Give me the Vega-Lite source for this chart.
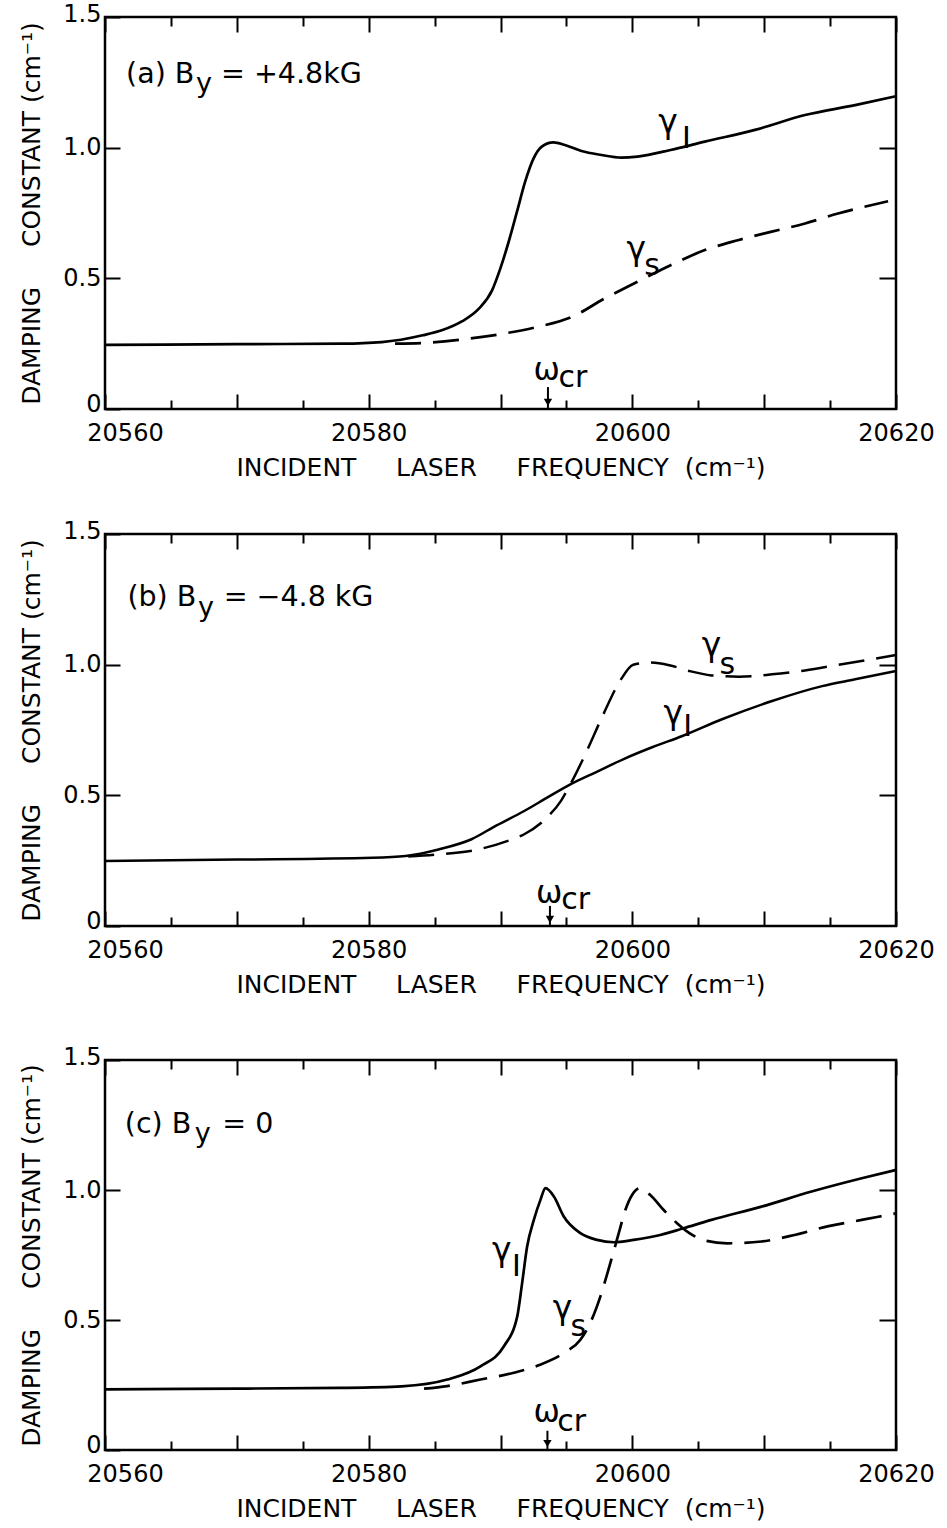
{
  "$schema": "https://vega.github.io/schema/vega-lite/v6.json",
  "padding": {"top": 0, "left": 18, "right": 0, "bottom": 0},
  "background": "white",
  "spacing": 35,
  "datasets": {
    "curves": [
      {"panel":"a","series":"I","f":20560,"v":0.245},{"panel":"a","series":"I","f":20570,"v":0.248},{"panel":"a","series":"I","f":20578,"v":0.25},{"panel":"a","series":"I","f":20581,"v":0.256},{"panel":"a","series":"I","f":20584.1,"v":0.282},{"panel":"a","series":"I","f":20585.6,"v":0.302},{"panel":"a","series":"I","f":20587.1,"v":0.336},{"panel":"a","series":"I","f":20588.36,"v":0.384},{"panel":"a","series":"I","f":20589.36,"v":0.454},{"panel":"a","series":"I","f":20589.99,"v":0.538},{"panel":"a","series":"I","f":20590.62,"v":0.64},{"panel":"a","series":"I","f":20591.25,"v":0.755},{"panel":"a","series":"I","f":20591.87,"v":0.87},{"panel":"a","series":"I","f":20592.51,"v":0.959},{"panel":"a","series":"I","f":20593.13,"v":1.004},{"panel":"a","series":"I","f":20594.01,"v":1.02},{"panel":"a","series":"I","f":20594.89,"v":1.01},{"panel":"a","series":"I","f":20596.14,"v":0.987},{"panel":"a","series":"I","f":20597.65,"v":0.972},{"panel":"a","series":"I","f":20599.16,"v":0.962},{"panel":"a","series":"I","f":20600.4,"v":0.966},{"panel":"a","series":"I","f":20602.9,"v":0.991},{"panel":"a","series":"I","f":20605.5,"v":1.023},{"panel":"a","series":"I","f":20609.3,"v":1.068},{"panel":"a","series":"I","f":20613.1,"v":1.125},{"panel":"a","series":"I","f":20616.9,"v":1.163},{"panel":"a","series":"I","f":20620,"v":1.197},
      {"panel":"a","series":"S","f":20582,"v":0.25},{"panel":"a","series":"S","f":20584.7,"v":0.254},{"panel":"a","series":"S","f":20587.6,"v":0.269},{"panel":"a","series":"S","f":20590.3,"v":0.289},{"panel":"a","series":"S","f":20592.8,"v":0.314},{"panel":"a","series":"S","f":20595.4,"v":0.352},{"panel":"a","series":"S","f":20597.9,"v":0.423},{"panel":"a","series":"S","f":20600.4,"v":0.487},{"panel":"a","series":"S","f":20602.9,"v":0.55},{"panel":"a","series":"S","f":20605.5,"v":0.608},{"panel":"a","series":"S","f":20608,"v":0.646},{"panel":"a","series":"S","f":20610.5,"v":0.678},{"panel":"a","series":"S","f":20613.1,"v":0.71},{"panel":"a","series":"S","f":20615.6,"v":0.748},{"panel":"a","series":"S","f":20619.4,"v":0.795},
      {"panel":"b","series":"I","f":20560,"v":0.249},{"panel":"b","series":"I","f":20570,"v":0.254},{"panel":"b","series":"I","f":20580.3,"v":0.261},{"panel":"b","series":"I","f":20582.8,"v":0.268},{"panel":"b","series":"I","f":20585.3,"v":0.293},{"panel":"b","series":"I","f":20587.8,"v":0.332},{"panel":"b","series":"I","f":20589.7,"v":0.385},{"panel":"b","series":"I","f":20591.8,"v":0.44},{"panel":"b","series":"I","f":20593.5,"v":0.49},{"panel":"b","series":"I","f":20595.3,"v":0.542},{"panel":"b","series":"I","f":20597.3,"v":0.59},{"panel":"b","series":"I","f":20599.3,"v":0.638},{"panel":"b","series":"I","f":20601.5,"v":0.684},{"panel":"b","series":"I","f":20603.8,"v":0.727},{"panel":"b","series":"I","f":20606.8,"v":0.791},{"panel":"b","series":"I","f":20610.6,"v":0.861},{"panel":"b","series":"I","f":20614.4,"v":0.918},{"panel":"b","series":"I","f":20616.9,"v":0.944},{"panel":"b","series":"I","f":20620,"v":0.976},
      {"panel":"b","series":"S","f":20583,"v":0.266},{"panel":"b","series":"S","f":20585.3,"v":0.274},{"panel":"b","series":"S","f":20588.3,"v":0.293},{"panel":"b","series":"S","f":20590.5,"v":0.325},{"panel":"b","series":"S","f":20591.8,"v":0.351},{"panel":"b","series":"S","f":20593.5,"v":0.414},{"panel":"b","series":"S","f":20594.6,"v":0.48},{"panel":"b","series":"S","f":20595.3,"v":0.542},{"panel":"b","series":"S","f":20596.55,"v":0.67},{"panel":"b","series":"S","f":20597.8,"v":0.81},{"panel":"b","series":"S","f":20599.07,"v":0.938},{"panel":"b","series":"S","f":20600.07,"v":1.0},{"panel":"b","series":"S","f":20601.3,"v":1.008},{"panel":"b","series":"S","f":20602.8,"v":0.998},{"panel":"b","series":"S","f":20604.3,"v":0.976},{"panel":"b","series":"S","f":20606,"v":0.959},{"panel":"b","series":"S","f":20608.1,"v":0.954},{"panel":"b","series":"S","f":20610.6,"v":0.963},{"panel":"b","series":"S","f":20613.1,"v":0.978},{"panel":"b","series":"S","f":20615.6,"v":0.999},{"panel":"b","series":"S","f":20620,"v":1.037},
      {"panel":"c","series":"I","f":20560,"v":0.233},{"panel":"c","series":"I","f":20570,"v":0.236},{"panel":"c","series":"I","f":20577.9,"v":0.239},{"panel":"c","series":"I","f":20582.5,"v":0.245},{"panel":"c","series":"I","f":20585.96,"v":0.271},{"panel":"c","series":"I","f":20588.48,"v":0.322},{"panel":"c","series":"I","f":20590.26,"v":0.399},{"panel":"c","series":"I","f":20591.27,"v":0.514},{"panel":"c","series":"I","f":20591.64,"v":0.642},{"panel":"c","series":"I","f":20592.02,"v":0.783},{"panel":"c","series":"I","f":20592.53,"v":0.885},{"panel":"c","series":"I","f":20593.03,"v":0.962},{"panel":"c","series":"I","f":20593.41,"v":1.007},{"panel":"c","series":"I","f":20594.05,"v":0.975},{"panel":"c","series":"I","f":20594.8,"v":0.898},{"panel":"c","series":"I","f":20596.06,"v":0.834},{"panel":"c","series":"I","f":20597.33,"v":0.808},{"panel":"c","series":"I","f":20598.59,"v":0.799},{"panel":"c","series":"I","f":20600.1,"v":0.808},{"panel":"c","series":"I","f":20602.12,"v":0.827},{"panel":"c","series":"I","f":20603.89,"v":0.853},{"panel":"c","series":"I","f":20606,"v":0.885},{"panel":"c","series":"I","f":20609.8,"v":0.936},{"panel":"c","series":"I","f":20613.6,"v":0.994},{"panel":"c","series":"I","f":20617.4,"v":1.045},{"panel":"c","series":"I","f":20620,"v":1.077},
      {"panel":"c","series":"S","f":20584.2,"v":0.236},{"panel":"c","series":"S","f":20585.96,"v":0.246},{"panel":"c","series":"S","f":20588.48,"v":0.271},{"panel":"c","series":"S","f":20591.0,"v":0.297},{"panel":"c","series":"S","f":20593.0,"v":0.328},{"panel":"c","series":"S","f":20594.8,"v":0.373},{"panel":"c","series":"S","f":20596.06,"v":0.424},{"panel":"c","series":"S","f":20596.8,"v":0.488},{"panel":"c","series":"S","f":20597.58,"v":0.591},{"panel":"c","series":"S","f":20598.33,"v":0.719},{"panel":"c","series":"S","f":20598.97,"v":0.834},{"panel":"c","series":"S","f":20599.47,"v":0.923},{"panel":"c","series":"S","f":20599.98,"v":0.981},{"panel":"c","series":"S","f":20600.6,"v":1.007},{"panel":"c","series":"S","f":20601.36,"v":0.981},{"panel":"c","series":"S","f":20602.38,"v":0.923},{"panel":"c","series":"S","f":20603.39,"v":0.872},{"panel":"c","series":"S","f":20604.3,"v":0.835},{"panel":"c","series":"S","f":20605.5,"v":0.806},{"panel":"c","series":"S","f":20607.2,"v":0.795},{"panel":"c","series":"S","f":20609.8,"v":0.802},{"panel":"c","series":"S","f":20612.3,"v":0.827},{"panel":"c","series":"S","f":20614.8,"v":0.86},{"panel":"c","series":"S","f":20617.4,"v":0.885},{"panel":"c","series":"S","f":20620,"v":0.91}
    ],
    "labels": [
      {"panel":"a","kind":"gamma","f":20602.7,"v":1.095,"text":"γ"},
      {"panel":"a","kind":"sub","f":20604.1,"v":1.035,"text":"I"},
      {"panel":"a","kind":"gamma","f":20600.3,"v":0.608,"text":"γ"},
      {"panel":"a","kind":"sub","f":20601.5,"v":0.548,"text":"s"},
      {"panel":"a","kind":"omega","f":20593.5,"v":0.146,"text":"ω"},
      {"panel":"a","kind":"sub","f":20595.5,"v":0.117,"text":"cr"},
      {"panel":"b","kind":"gamma","f":20606.0,"v":1.07,"text":"γ"},
      {"panel":"b","kind":"sub","f":20607.2,"v":1.0,"text":"s"},
      {"panel":"b","kind":"gamma","f":20603.1,"v":0.81,"text":"γ"},
      {"panel":"b","kind":"sub","f":20604.2,"v":0.762,"text":"I"},
      {"panel":"b","kind":"omega","f":20593.7,"v":0.122,"text":"ω"},
      {"panel":"b","kind":"sub","f":20595.7,"v":0.098,"text":"cr"},
      {"panel":"c","kind":"gamma","f":20590.1,"v":0.765,"text":"γ"},
      {"panel":"c","kind":"sub","f":20591.2,"v":0.705,"text":"I"},
      {"panel":"c","kind":"gamma","f":20594.7,"v":0.542,"text":"γ"},
      {"panel":"c","kind":"sub","f":20595.9,"v":0.472,"text":"s"},
      {"panel":"c","kind":"omega","f":20593.5,"v":0.142,"text":"ω"},
      {"panel":"c","kind":"sub","f":20595.4,"v":0.106,"text":"cr"}
    ],
    "heads": [
      {"panel":"a","kind":"head","f":20561.6,"v":1.249,"text":"(a) B"},
      {"panel":"a","kind":"headsub","f":20566.9,"v":1.212,"text":"y"},
      {"panel":"a","kind":"head","f":20568.8,"v":1.249,"text":"= +4.8kG"},
      {"panel":"b","kind":"head","f":20561.7,"v":1.225,"text":"(b) B"},
      {"panel":"b","kind":"headsub","f":20567.05,"v":1.188,"text":"y"},
      {"panel":"b","kind":"head","f":20569.0,"v":1.225,"text":"= −4.8 kG"},
      {"panel":"c","kind":"head","f":20561.5,"v":1.221,"text":"(c) B"},
      {"panel":"c","kind":"headsub","f":20566.8,"v":1.184,"text":"y"},
      {"panel":"c","kind":"head","f":20568.9,"v":1.221,"text":"= 0"}
    ],
    "arrows": [
      {"panel":"a","f":20593.6,"top":0.084,"bot":0.004,"tip":0.025},
      {"panel":"b","f":20593.75,"top":0.077,"bot":0.004,"tip":0.025},
      {"panel":"c","f":20593.56,"top":0.074,"bot":0.004,"tip":0.025}
    ]
  },
  "vconcat": [
    {
      "width": 791, "height": 392,
      "resolve": {"axis": {"x": "independent", "y": "independent"}},
      "layer": [
        {"data": {"name": "curves"}, "transform": [{"filter": "datum.panel === 'a' && datum.series === 'I'"}],
         "mark": {"type": "line", "color": "black", "strokeWidth": 2.7, "interpolate": "monotone"},
         "encoding": {
           "x": {"field": "f", "type": "quantitative", "scale": {"domain": [20560, 20620], "nice": false, "zero": false},
             "axis": {"orient": "bottom", "values": [20560,20565,20570,20575,20580,20585,20590,20595,20600,20605,20610,20615,20620],
               "tickSize": {"condition": {"test": "datum.value % 10 === 0", "value": -15}, "value": -9},
               "labelOffset": {"condition": {"test": "datum.value === 20560", "value": 20}, "value": 0},
               "labelExpr": "datum.value % 20 === 0 ? format(datum.value, 'd') : ''", "labelOverlap": false, "labelFlush": false, "labelPadding": 27,
               "title": "INCIDENT\u00a0\u00a0\u00a0\u00a0\u00a0LASER\u00a0\u00a0\u00a0\u00a0\u00a0FREQUENCY\u00a0\u00a0(cm⁻¹)", "titlePadding": 4}},
           "y": {"field": "v", "type": "quantitative", "scale": {"domain": [0, 1.5], "nice": false, "zero": false},
             "axis": {"orient": "left", "values": [0, 0.5, 1, 1.5], "tickSize": -15, "labelPadding": 19, "labelFlush": false, "labelOverlap": false,
               "labelOffset": {"condition": [{"test": "datum.value === 0", "value": -5}, {"test": "datum.value === 1.5", "value": -3}], "value": 0},
               "labelExpr": "datum.value === 0 ? '0' : format(datum.value, '.1f')",
               "title": "DAMPING\u00a0\u00a0\u00a0\u00a0\u00a0CONSTANT\u00a0(cm⁻¹)", "titlePadding": 18}}
         }},
        {"data": {"name": "curves"}, "transform": [{"filter": "datum.panel === 'a' && datum.series === 'S'"}],
         "mark": {"type": "line", "color": "black", "strokeWidth": 2.7, "interpolate": "monotone", "strokeDash": [26, 12]},
         "encoding": {
           "x": {"field": "f", "type": "quantitative", "scale": {"domain": [20560, 20620], "nice": false, "zero": false},
             "axis": {"orient": "top", "values": [20560,20565,20570,20575,20580,20585,20590,20595,20600,20605,20610,20615,20620],
               "tickSize": {"condition": {"test": "datum.value % 10 === 0", "value": -15}, "value": -9}, "labels": false, "title": null}},
           "y": {"field": "v", "type": "quantitative", "scale": {"domain": [0, 1.5], "nice": false, "zero": false},
             "axis": {"orient": "right", "values": [0.5, 1], "tickSize": -17, "labels": false, "title": null}}
         }},
        {"data": {"name": "labels"}, "transform": [{"filter": "datum.panel === 'a'"}],
         "mark": {"type": "text", "align": "center", "baseline": "middle", "color": "black"},
         "encoding": {
           "x": {"field": "f", "type": "quantitative", "scale": {"domain": [20560, 20620], "nice": false, "zero": false}, "axis": null},
           "y": {"field": "v", "type": "quantitative", "scale": {"domain": [0, 1.5], "nice": false, "zero": false}, "axis": null},
           "text": {"field": "text"},
           "size": {"field": "kind", "type": "nominal", "scale": {"domain": ["gamma", "omega", "sub"], "range": [33, 27, 18]}, "legend": null}
         }},
        {"data": {"name": "heads"}, "transform": [{"filter": "datum.panel === 'a'"}],
         "mark": {"type": "text", "align": "left", "baseline": "alphabetic", "color": "black"},
         "encoding": {
           "x": {"field": "f", "type": "quantitative", "scale": {"domain": [20560, 20620], "nice": false, "zero": false}, "axis": null},
           "y": {"field": "v", "type": "quantitative", "scale": {"domain": [0, 1.5], "nice": false, "zero": false}, "axis": null},
           "text": {"field": "text"},
           "size": {"field": "kind", "type": "nominal", "scale": {"domain": ["head", "headsub"], "range": [27, 20]}, "legend": null}
         }},
        {"data": {"name": "arrows"}, "transform": [{"filter": "datum.panel === 'a'"}],
         "mark": {"type": "rule", "color": "black", "strokeWidth": 2},
         "encoding": {
           "x": {"field": "f", "type": "quantitative", "scale": {"domain": [20560, 20620], "nice": false, "zero": false}, "axis": null},
           "y": {"field": "top", "type": "quantitative", "scale": {"domain": [0, 1.5], "nice": false, "zero": false}, "axis": null},
           "y2": {"field": "bot"}
         }},
        {"data": {"name": "arrows"}, "transform": [{"filter": "datum.panel === 'a'"}],
         "mark": {"type": "point", "shape": "triangle-down", "filled": true, "color": "black", "size": 70, "opacity": 1},
         "encoding": {
           "x": {"field": "f", "type": "quantitative", "scale": {"domain": [20560, 20620], "nice": false, "zero": false}, "axis": null},
           "y": {"field": "tip", "type": "quantitative", "scale": {"domain": [0, 1.5], "nice": false, "zero": false}, "axis": null}
         }}
      ]
    },
    {
      "spacing": 44,
      "vconcat": [
        {
          "width": 791, "height": 392,
          "resolve": {"axis": {"x": "independent", "y": "independent"}},
          "layer": [
            {"data": {"name": "curves"}, "transform": [{"filter": "datum.panel === 'b' && datum.series === 'I'"}],
             "mark": {"type": "line", "color": "black", "strokeWidth": 2.5, "interpolate": "monotone"},
             "encoding": {
               "x": {"field": "f", "type": "quantitative", "scale": {"domain": [20560, 20620], "nice": false, "zero": false},
                 "axis": {"orient": "bottom", "values": [20560,20565,20570,20575,20580,20585,20590,20595,20600,20605,20610,20615,20620],
                   "tickSize": {"condition": {"test": "datum.value % 10 === 0", "value": -15}, "value": -9},
                   "labelOffset": {"condition": {"test": "datum.value === 20560", "value": 20}, "value": 0},
                   "labelExpr": "datum.value % 20 === 0 ? format(datum.value, 'd') : ''", "labelOverlap": false, "labelFlush": false, "labelPadding": 27,
                   "title": "INCIDENT\u00a0\u00a0\u00a0\u00a0\u00a0LASER\u00a0\u00a0\u00a0\u00a0\u00a0FREQUENCY\u00a0\u00a0(cm⁻¹)", "titlePadding": 4}},
               "y": {"field": "v", "type": "quantitative", "scale": {"domain": [0, 1.5], "nice": false, "zero": false},
                 "axis": {"orient": "left", "values": [0, 0.5, 1, 1.5], "tickSize": -15, "labelPadding": 19, "labelFlush": false, "labelOverlap": false,
                   "labelOffset": {"condition": [{"test": "datum.value === 0", "value": -5}, {"test": "datum.value === 1.5", "value": -3}], "value": 0},
                   "labelExpr": "datum.value === 0 ? '0' : format(datum.value, '.1f')",
                   "title": "DAMPING\u00a0\u00a0\u00a0\u00a0\u00a0CONSTANT\u00a0(cm⁻¹)", "titlePadding": 18}}
             }},
            {"data": {"name": "curves"}, "transform": [{"filter": "datum.panel === 'b' && datum.series === 'S'"}],
             "mark": {"type": "line", "color": "black", "strokeWidth": 2.5, "interpolate": "monotone", "strokeDash": [26, 12]},
             "encoding": {
               "x": {"field": "f", "type": "quantitative", "scale": {"domain": [20560, 20620], "nice": false, "zero": false},
                 "axis": {"orient": "top", "values": [20560,20565,20570,20575,20580,20585,20590,20595,20600,20605,20610,20615,20620],
                   "tickSize": {"condition": {"test": "datum.value % 10 === 0", "value": -15}, "value": -9}, "labels": false, "title": null}},
               "y": {"field": "v", "type": "quantitative", "scale": {"domain": [0, 1.5], "nice": false, "zero": false},
                 "axis": {"orient": "right", "values": [0.5, 1], "tickSize": -17, "labels": false, "title": null}}
             }},
            {"data": {"name": "labels"}, "transform": [{"filter": "datum.panel === 'b'"}],
             "mark": {"type": "text", "align": "center", "baseline": "middle", "color": "black"},
             "encoding": {
               "x": {"field": "f", "type": "quantitative", "scale": {"domain": [20560, 20620], "nice": false, "zero": false}, "axis": null},
               "y": {"field": "v", "type": "quantitative", "scale": {"domain": [0, 1.5], "nice": false, "zero": false}, "axis": null},
               "text": {"field": "text"},
               "size": {"field": "kind", "type": "nominal", "scale": {"domain": ["gamma", "omega", "sub"], "range": [33, 27, 18]}, "legend": null}
             }},
            {"data": {"name": "heads"}, "transform": [{"filter": "datum.panel === 'b'"}],
             "mark": {"type": "text", "align": "left", "baseline": "alphabetic", "color": "black"},
             "encoding": {
               "x": {"field": "f", "type": "quantitative", "scale": {"domain": [20560, 20620], "nice": false, "zero": false}, "axis": null},
               "y": {"field": "v", "type": "quantitative", "scale": {"domain": [0, 1.5], "nice": false, "zero": false}, "axis": null},
               "text": {"field": "text"},
               "size": {"field": "kind", "type": "nominal", "scale": {"domain": ["head", "headsub"], "range": [27, 20]}, "legend": null}
             }},
            {"data": {"name": "arrows"}, "transform": [{"filter": "datum.panel === 'b'"}],
             "mark": {"type": "rule", "color": "black", "strokeWidth": 2},
             "encoding": {
               "x": {"field": "f", "type": "quantitative", "scale": {"domain": [20560, 20620], "nice": false, "zero": false}, "axis": null},
               "y": {"field": "top", "type": "quantitative", "scale": {"domain": [0, 1.5], "nice": false, "zero": false}, "axis": null},
               "y2": {"field": "bot"}
             }},
            {"data": {"name": "arrows"}, "transform": [{"filter": "datum.panel === 'b'"}],
             "mark": {"type": "point", "shape": "triangle-down", "filled": true, "color": "black", "size": 70, "opacity": 1},
             "encoding": {
               "x": {"field": "f", "type": "quantitative", "scale": {"domain": [20560, 20620], "nice": false, "zero": false}, "axis": null},
               "y": {"field": "tip", "type": "quantitative", "scale": {"domain": [0, 1.5], "nice": false, "zero": false}, "axis": null}
             }}
          ]
        },
        {
          "width": 791, "height": 390,
          "resolve": {"axis": {"x": "independent", "y": "independent"}},
          "layer": [
            {"data": {"name": "curves"}, "transform": [{"filter": "datum.panel === 'c' && datum.series === 'I'"}],
             "mark": {"type": "line", "color": "black", "strokeWidth": 2.7, "interpolate": "monotone"},
             "encoding": {
               "x": {"field": "f", "type": "quantitative", "scale": {"domain": [20560, 20620], "nice": false, "zero": false},
                 "axis": {"orient": "bottom", "values": [20560,20565,20570,20575,20580,20585,20590,20595,20600,20605,20610,20615,20620],
                   "tickSize": {"condition": {"test": "datum.value % 10 === 0", "value": -15}, "value": -9},
                   "labelOffset": {"condition": {"test": "datum.value === 20560", "value": 20}, "value": 0},
                   "labelExpr": "datum.value % 20 === 0 ? format(datum.value, 'd') : ''", "labelOverlap": false, "labelFlush": false, "labelPadding": 27,
                   "title": "INCIDENT\u00a0\u00a0\u00a0\u00a0\u00a0LASER\u00a0\u00a0\u00a0\u00a0\u00a0FREQUENCY\u00a0\u00a0(cm⁻¹)", "titlePadding": 4}},
               "y": {"field": "v", "type": "quantitative", "scale": {"domain": [0, 1.5], "nice": false, "zero": false},
                 "axis": {"orient": "left", "values": [0, 0.5, 1, 1.5], "tickSize": -15, "labelPadding": 19, "labelFlush": false, "labelOverlap": false,
                   "labelOffset": {"condition": [{"test": "datum.value === 0", "value": -5}, {"test": "datum.value === 1.5", "value": -3}], "value": 0},
                   "labelExpr": "datum.value === 0 ? '0' : format(datum.value, '.1f')",
                   "title": "DAMPING\u00a0\u00a0\u00a0\u00a0\u00a0CONSTANT\u00a0(cm⁻¹)", "titlePadding": 18}}
             }},
            {"data": {"name": "curves"}, "transform": [{"filter": "datum.panel === 'c' && datum.series === 'S'"}],
             "mark": {"type": "line", "color": "black", "strokeWidth": 2.7, "interpolate": "monotone", "strokeDash": [26, 12]},
             "encoding": {
               "x": {"field": "f", "type": "quantitative", "scale": {"domain": [20560, 20620], "nice": false, "zero": false},
                 "axis": {"orient": "top", "values": [20560,20565,20570,20575,20580,20585,20590,20595,20600,20605,20610,20615,20620],
                   "tickSize": {"condition": {"test": "datum.value % 10 === 0", "value": -15}, "value": -9}, "labels": false, "title": null}},
               "y": {"field": "v", "type": "quantitative", "scale": {"domain": [0, 1.5], "nice": false, "zero": false},
                 "axis": {"orient": "right", "values": [0.5, 1], "tickSize": -17, "labels": false, "title": null}}
             }},
            {"data": {"name": "labels"}, "transform": [{"filter": "datum.panel === 'c'"}],
             "mark": {"type": "text", "align": "center", "baseline": "middle", "color": "black"},
             "encoding": {
               "x": {"field": "f", "type": "quantitative", "scale": {"domain": [20560, 20620], "nice": false, "zero": false}, "axis": null},
               "y": {"field": "v", "type": "quantitative", "scale": {"domain": [0, 1.5], "nice": false, "zero": false}, "axis": null},
               "text": {"field": "text"},
               "size": {"field": "kind", "type": "nominal", "scale": {"domain": ["gamma", "omega", "sub"], "range": [33, 27, 18]}, "legend": null}
             }},
            {"data": {"name": "heads"}, "transform": [{"filter": "datum.panel === 'c'"}],
             "mark": {"type": "text", "align": "left", "baseline": "alphabetic", "color": "black"},
             "encoding": {
               "x": {"field": "f", "type": "quantitative", "scale": {"domain": [20560, 20620], "nice": false, "zero": false}, "axis": null},
               "y": {"field": "v", "type": "quantitative", "scale": {"domain": [0, 1.5], "nice": false, "zero": false}, "axis": null},
               "text": {"field": "text"},
               "size": {"field": "kind", "type": "nominal", "scale": {"domain": ["head", "headsub"], "range": [27, 20]}, "legend": null}
             }},
            {"data": {"name": "arrows"}, "transform": [{"filter": "datum.panel === 'c'"}],
             "mark": {"type": "rule", "color": "black", "strokeWidth": 2},
             "encoding": {
               "x": {"field": "f", "type": "quantitative", "scale": {"domain": [20560, 20620], "nice": false, "zero": false}, "axis": null},
               "y": {"field": "top", "type": "quantitative", "scale": {"domain": [0, 1.5], "nice": false, "zero": false}, "axis": null},
               "y2": {"field": "bot"}
             }},
            {"data": {"name": "arrows"}, "transform": [{"filter": "datum.panel === 'c'"}],
             "mark": {"type": "point", "shape": "triangle-down", "filled": true, "color": "black", "size": 70, "opacity": 1},
             "encoding": {
               "x": {"field": "f", "type": "quantitative", "scale": {"domain": [20560, 20620], "nice": false, "zero": false}, "axis": null},
               "y": {"field": "tip", "type": "quantitative", "scale": {"domain": [0, 1.5], "nice": false, "zero": false}, "axis": null}
             }}
          ]
        }
      ]
    }
  ],
  "config": {
    "font": "DejaVu Sans",
    "view": {"stroke": "black", "strokeWidth": 2.5},
    "axis": {"domain": false, "grid": false, "tickColor": "black", "tickWidth": 2, "labelColor": "black", "labelFontSize": 24, "labelFont": "DejaVu Sans", "titleColor": "black", "titleFontSize": 25, "titleFont": "DejaVu Sans", "titleFontWeight": "normal"},
    "text": {"font": "DejaVu Sans", "color": "black"}
  }
}
